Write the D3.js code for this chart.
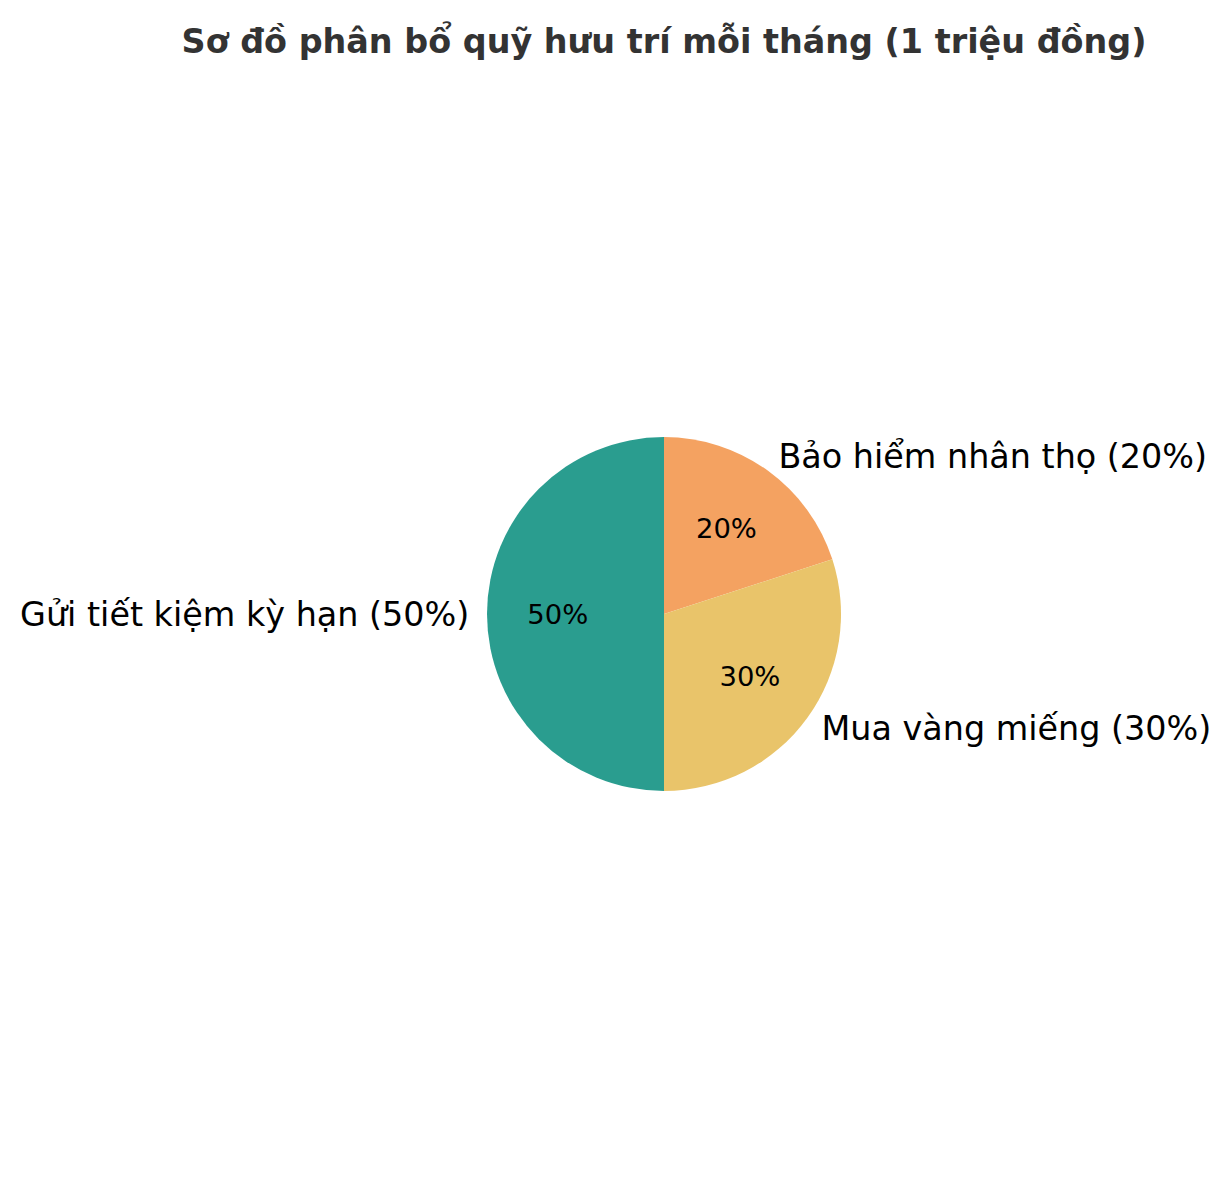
<!DOCTYPE html>
<html>
<head>
<meta charset="utf-8">
<script src="https://d3js.org/d3.v7.min.js"></script>
<style>
  body { margin: 0; background: #fff; }
  text { font-family: "DejaVu Sans", sans-serif; }
</style>
</head>
<body>
<div id="chartContainer"></div>
<script>
// slices in clockwise order starting at 12 o'clock
var labels = ["Bảo hiểm nhân thọ (20%)", "Mua vàng miếng (30%)", "Gửi tiết kiệm kỳ hạn (50%)"];
var values = [20, 30, 50];
var colors = ["#f4a261", "#e9c46a", "#2a9d8f"];
var title = "Sơ đồ phân bổ quỹ hưu trí mỗi tháng (1 triệu đồng)";

var width = 1231, height = 1180;
var cx = 664, cy = 614, r = 177;

var svg = d3.select("#chartContainer").append("svg")
  .attr("width", width)
  .attr("height", height);

svg.append("text")
  .attr("x", cx)
  .attr("y", 41)
  .attr("text-anchor", "middle")
  .attr("dominant-baseline", "central")
  .attr("font-size", "33.4px")
  .attr("font-weight", "bold")
  .attr("fill", "#333333")
  .text(title);

var pie = d3.pie().sort(null).value(function(d) { return d; });
var arcs = pie(values);
var arc = d3.arc().innerRadius(0).outerRadius(r);

var g = svg.append("g").attr("transform", "translate(" + cx + "," + cy + ")");

g.selectAll("path")
  .data(arcs)
  .enter()
  .append("path")
  .attr("d", arc)
  .attr("fill", function(d, i) { return colors[i]; });

var total = d3.sum(values);

// percentage labels at 0.6 r
g.selectAll(".pct")
  .data(arcs)
  .enter()
  .append("text")
  .attr("class", "pct")
  .attr("x", function(d) { return 0.6 * r * Math.sin((d.startAngle + d.endAngle) / 2); })
  .attr("y", function(d) { return -0.6 * r * Math.cos((d.startAngle + d.endAngle) / 2); })
  .attr("text-anchor", "middle")
  .attr("dominant-baseline", "central")
  .attr("font-size", "27.4px")
  .attr("fill", "#000")
  .text(function(d) { return Math.round(d.value / total * 100) + "%"; });

// category labels at 1.1 r
g.selectAll(".lbl")
  .data(arcs)
  .enter()
  .append("text")
  .attr("class", "lbl")
  .attr("x", function(d) { return 1.1 * r * Math.sin((d.startAngle + d.endAngle) / 2); })
  .attr("y", function(d) { return -1.1 * r * Math.cos((d.startAngle + d.endAngle) / 2); })
  .attr("text-anchor", function(d) {
    return Math.sin((d.startAngle + d.endAngle) / 2) >= 0 ? "start" : "end";
  })
  .attr("dominant-baseline", "central")
  .attr("font-size", "33.4px")
  .attr("fill", "#000")
  .text(function(d, i) { return labels[i]; });
</script>
</body>
</html>
